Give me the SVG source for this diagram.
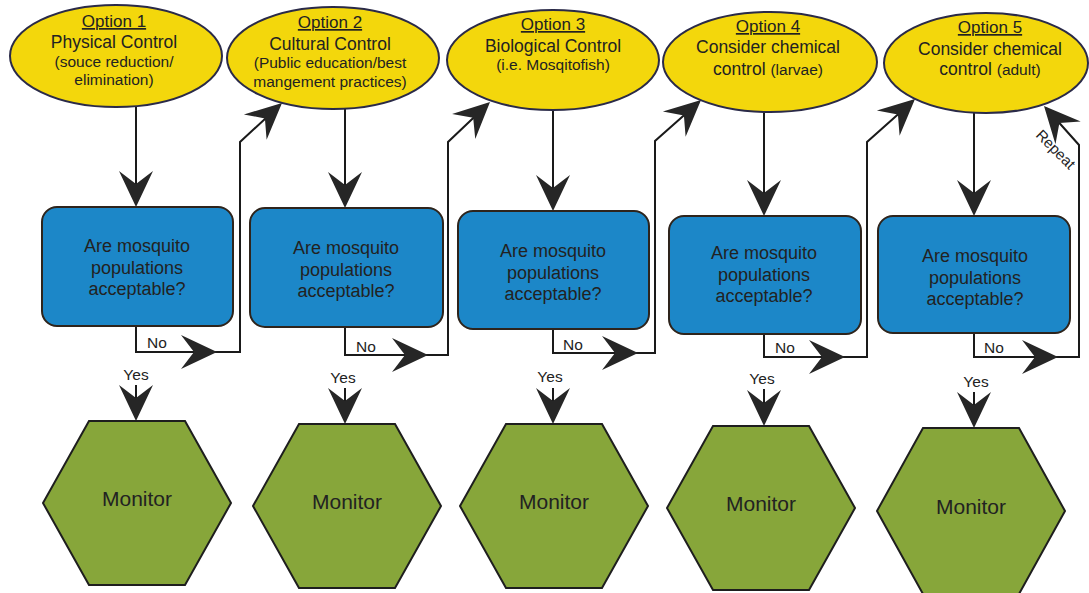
<svg xmlns="http://www.w3.org/2000/svg" xmlns:xlink="http://www.w3.org/1999/xlink" width="1089" height="593" viewBox="0 0 1089 593">
<style>
text{font-family:"Liberation Sans",Arial,sans-serif;fill:#222;text-anchor:middle}
.opt{fill:#F3D70C;stroke:#2a2a48;stroke-width:2}
.q{fill:#1C87C8;stroke:#2e241c;stroke-width:2}
.mon{fill:#87A63A;stroke:#1e1e1e;stroke-width:2}
.t{font-size:17.5px}
.s{font-size:15.5px}
.u{font-size:17px;text-decoration:underline}
.qt{font-size:18px}
.mt{font-size:21px}
.lb{font-size:15.5px}
.rp{font-size:15px}
.ln{fill:none;stroke:#1a1a1a;stroke-width:2}
.ah{fill:#262626}
</style>
<defs>
<path id="ah" d="M0,0 L-36,-17 L-23,0 L-36,17 Z"/>
</defs>
<g id="connectors">
<!-- column 1 -->
<path class="ln" d="M136,106 V205"/>
<use href="#ah" class="ah" transform="translate(136,207) rotate(90)"/>
<path class="ln" d="M136,326 V352 H240 V142 L280,105"/>
<use href="#ah" class="ah" transform="translate(217,352)"/>
<use href="#ah" class="ah" transform="translate(282,103) rotate(-42)"/>
<path class="ln" d="M136,385 V419"/>
<use href="#ah" class="ah" transform="translate(136,421) rotate(90)"/>
<!-- column 2 -->
<path class="ln" d="M345,109 V206"/>
<use href="#ah" class="ah" transform="translate(345,208) rotate(90)"/>
<path class="ln" d="M345,327 V355 H448 V142 L488,104"/>
<use href="#ah" class="ah" transform="translate(428,355)"/>
<use href="#ah" class="ah" transform="translate(490,102) rotate(-43)"/>
<path class="ln" d="M345,388 V422"/>
<use href="#ah" class="ah" transform="translate(345,424) rotate(90)"/>
<!-- column 3 -->
<path class="ln" d="M553,110 V209"/>
<use href="#ah" class="ah" transform="translate(553,211) rotate(90)"/>
<path class="ln" d="M553,329 V353 H655 V141 L699,102"/>
<use href="#ah" class="ah" transform="translate(638,353)"/>
<use href="#ah" class="ah" transform="translate(701,100) rotate(-42)"/>
<path class="ln" d="M553,388 V422"/>
<use href="#ah" class="ah" transform="translate(553,424) rotate(90)"/>
<!-- column 4 -->
<path class="ln" d="M764,112 V214"/>
<use href="#ah" class="ah" transform="translate(764,216) rotate(90)"/>
<path class="ln" d="M764,334 V357 H867 V142 L913,101"/>
<use href="#ah" class="ah" transform="translate(845,357)"/>
<use href="#ah" class="ah" transform="translate(915,99) rotate(-42)"/>
<path class="ln" d="M764,389 V424"/>
<use href="#ah" class="ah" transform="translate(764,426) rotate(90)"/>
<!-- column 5 -->
<path class="ln" d="M974,113 V214"/>
<use href="#ah" class="ah" transform="translate(974,216) rotate(90)"/>
<path class="ln" d="M974,333 V357 H1079 V145 L1046,108"/>
<use href="#ah" class="ah" transform="translate(1058,357)"/>
<use href="#ah" class="ah" transform="translate(1044,106) rotate(-132)"/>
<path class="ln" d="M974,392 V426"/>
<use href="#ah" class="ah" transform="translate(974,428) rotate(90)"/>
<!-- labels -->
<text class="lb" x="157" y="348">No</text>
<text class="lb" x="136" y="380">Yes</text>
<text class="lb" x="366" y="352">No</text>
<text class="lb" x="343" y="383">Yes</text>
<text class="lb" x="573" y="350">No</text>
<text class="lb" x="550" y="382">Yes</text>
<text class="lb" x="785" y="353">No</text>
<text class="lb" x="762" y="384">Yes</text>
<text class="lb" x="994" y="353">No</text>
<text class="lb" x="976" y="387">Yes</text>
<text class="rp" x="1052" y="153" transform="rotate(45 1052 153)">Repeat</text>
</g>
<g id="option1">
<ellipse class="opt" cx="116" cy="56" rx="106" ry="51"/>
<text class="u" x="114" y="27">Option 1</text>
<text class="t" x="114" y="48">Physical Control</text>
<text class="s" x="114" y="67">(souce reduction/</text>
<text class="s" x="114" y="85">elimination)</text>
</g>
<g id="option2">
<ellipse class="opt" cx="333" cy="58" rx="106" ry="51"/>
<text class="u" x="330" y="28">Option 2</text>
<text class="t" x="330" y="50">Cultural Control</text>
<text class="s" x="330" y="68">(Public education/best</text>
<text class="s" x="330" y="87">mangement practices)</text>
</g>
<g id="option3">
<ellipse class="opt" cx="553" cy="60" rx="106" ry="50"/>
<text class="u" x="553" y="30">Option 3</text>
<text class="t" x="553" y="52">Biological Control</text>
<text class="s" x="553" y="70">(i.e. Mosqitofish)</text>
</g>
<g id="option4">
<ellipse class="opt" cx="770" cy="62" rx="107" ry="50"/>
<text class="u" x="768" y="32">Option 4</text>
<text class="t" x="768" y="53">Consider chemical</text>
<text x="768" y="75"><tspan class="t">control </tspan><tspan class="s">(larvae)</tspan></text>
</g>
<g id="option5">
<ellipse class="opt" cx="986" cy="63" rx="102" ry="50"/>
<text class="u" x="990" y="33">Option 5</text>
<text class="t" x="990" y="55">Consider chemical</text>
<text x="990" y="75"><tspan class="t">control </tspan><tspan class="s">(adult)</tspan></text>
</g>
<g id="question1">
<rect class="q" x="42" y="207" width="191" height="119" rx="15"/>
<text class="qt" x="137" y="252">Are mosquito</text>
<text class="qt" x="137" y="274">populations</text>
<text class="qt" x="137" y="295">acceptable?</text>
</g>
<g id="question2">
<rect class="q" x="250" y="208" width="193" height="119" rx="15"/>
<text class="qt" x="346" y="254">Are mosquito</text>
<text class="qt" x="346" y="276">populations</text>
<text class="qt" x="346" y="297">acceptable?</text>
</g>
<g id="question3">
<rect class="q" x="458" y="211" width="191" height="118" rx="15"/>
<text class="qt" x="553" y="257">Are mosquito</text>
<text class="qt" x="553" y="279">populations</text>
<text class="qt" x="553" y="300">acceptable?</text>
</g>
<g id="question4">
<rect class="q" x="669" y="216" width="192" height="118" rx="15"/>
<text class="qt" x="764" y="259">Are mosquito</text>
<text class="qt" x="764" y="281">populations</text>
<text class="qt" x="764" y="302">acceptable?</text>
</g>
<g id="question5">
<rect class="q" x="878" y="216" width="192" height="117" rx="15"/>
<text class="qt" x="975" y="262">Are mosquito</text>
<text class="qt" x="975" y="284">populations</text>
<text class="qt" x="975" y="305">acceptable?</text>
</g>
<g id="monitor1">
<polygon class="mon" points="89,421 185,421 231,503 185,585 89,585 43,503"/>
<text class="mt" x="137" y="506">Monitor</text>
</g>
<g id="monitor2">
<polygon class="mon" points="299,424 395,424 441,506 395,588 299,588 253,506"/>
<text class="mt" x="347" y="509">Monitor</text>
</g>
<g id="monitor3">
<polygon class="mon" points="506,424 602,424 648,506 602,588 506,588 460,506"/>
<text class="mt" x="554" y="509">Monitor</text>
</g>
<g id="monitor4">
<polygon class="mon" points="713,426 809,426 855,508 809,590 713,590 667,508"/>
<text class="mt" x="761" y="511">Monitor</text>
</g>
<g id="monitor5">
<polygon class="mon" points="923,428 1019,428 1065,511 1019,594 923,594 877,511"/>
<text class="mt" x="971" y="514">Monitor</text>
</g>
</svg>
